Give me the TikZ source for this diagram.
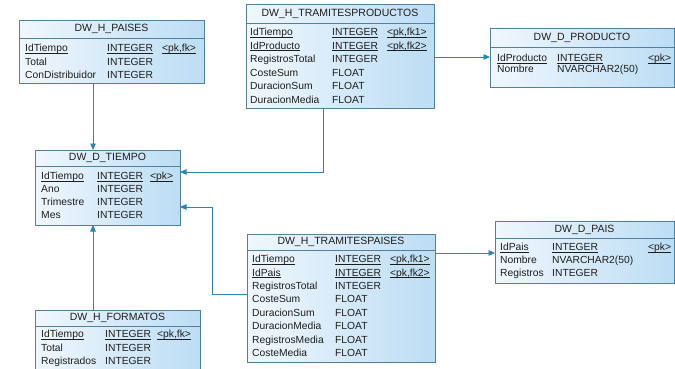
\documentclass[tikz,border=0pt]{standalone}
\usepackage{fontspec}
\setmainfont{Liberation Sans}
\usetikzlibrary{arrows.meta}
\definecolor{edgec}{RGB}{80,130,160}
\definecolor{connc}{RGB}{38,135,180}
\definecolor{fillL}{RGB}{240,247,253}
\definecolor{fillR}{RGB}{188,221,244}
\definecolor{txtc}{RGB}{30,30,30}
\newcommand\ul[1]{\setbox0\hbox{#1}\rlap{\rule[-1.7pt]{\wd0}{0.55pt}}\box0}
\newcommand\erow[7]{%
  \node[fld] (#1n) at (#3,#2) {#6};
  \node[fld] (#1t) at (#4,#2) {#7};}
\newcommand\erowk[9]{%
  \node[fld] (#1n) at (#3,#2) {#6};
  \node[fld] (#1t) at (#4,#2) {#7};
  \node[fld] (#1k) at (#5,#2) {#8};}
\newcommand\ent[7]{% name, x0, y0, x1, y1, ysep, title
  \node[entity, minimum width=#4-#2, minimum height=#5-#3] (#1) at ({(#2+#4)/2},{(#3+#5)/2}) {};
  \draw[sepline] (#2,#6) -- (#4,#6);
  \node[title] (#1h) at ({(#2+#4)/2},{(#3+#6)/2}) {#7};}
\begin{document}
\begin{tikzpicture}[x=1pt,y=-1pt,
  entity/.style={draw=edgec, line width=0.8pt, left color=fillL, right color=fillR, inner sep=0pt, outer sep=0pt},
  sepline/.style={draw=edgec, line width=0.7pt},
  title/.style={inner sep=0pt, font=\fontsize{10.5}{12}\selectfont, text=txtc},
  fld/.style={anchor=base west, inner sep=0pt, font=\fontsize{10.3}{12}\selectfont, text=txtc},
  arr/.style={draw=connc, line width=0.9pt, -{Triangle[length=6.5pt,width=5.5pt]}}]
\useasboundingbox (0,0) rectangle (675,368);
\fill[white] (0,0) rectangle (675,368);

% DW_H_PAISES
\ent{paises}{19}{20}{204}{83}{38}{DW\_H\_PAISES}
\erowk{pa1}{51.5}{25}{107}{162}{\ul{IdTiempo}}{\ul{INTEGER}}{\ul{<pk,fk>}}{}
\erow{pa2}{65}{25}{107}{162}{Total}{INTEGER}
\erow{pa3}{78.5}{25}{107}{162}{ConDistribuidor}{INTEGER}

% DW_H_TRAMITESPRODUCTOS
\ent{tprod}{246}{4}{434}{108}{23}{DW\_H\_TRAMITESPRODUCTOS}
\erowk{tp1}{35.6}{250}{332}{387}{\ul{IdTiempo}}{\ul{INTEGER}}{\ul{<pk,fk1>}}{}
\erowk{tp2}{49.1}{250}{332}{387}{\ul{IdProducto}}{\ul{INTEGER}}{\ul{<pk,fk2>}}{}
\erow{tp3}{62.6}{250}{332}{387}{RegistrosTotal}{INTEGER}
\erow{tp4}{76.1}{250}{332}{387}{CosteSum}{FLOAT}
\erow{tp5}{89.6}{250}{332}{387}{DuracionSum}{FLOAT}
\erow{tp6}{103.1}{250}{332}{387}{DuracionMedia}{FLOAT}

% DW_D_PRODUCTO
\ent{prod}{490}{28}{674}{87}{47}{DW\_D\_PRODUCTO}
\erowk{pr1}{61.6}{497}{557}{648}{\ul{IdProducto}}{\ul{INTEGER}}{\ul{<pk>}}{}
\erow{pr2}{72.6}{497}{557}{648}{Nombre}{NVARCHAR2(50)}

% DW_D_TIEMPO
\ent{tiempo}{35}{150}{180}{225}{166}{DW\_D\_TIEMPO}
\erowk{ti1}{179.6}{41}{97}{150}{\ul{IdTiempo}}{\ul{INTEGER}}{\ul{<pk>}}{}
\erow{ti2}{192}{41}{97}{150}{Ano}{INTEGER}
\erow{ti3}{205.4}{41}{97}{150}{Trimestre}{INTEGER}
\erow{ti4}{218.6}{41}{97}{150}{Mes}{INTEGER}

% DW_H_TRAMITESPAISES
\ent{tpais}{247}{234}{435}{362}{250}{DW\_H\_TRAMITESPAISES}
\erowk{ta1}{262.6}{252}{335}{390}{\ul{IdTiempo}}{\ul{INTEGER}}{\ul{<pk,fk1>}}{}
\erowk{ta2}{276}{252}{335}{390}{\ul{IdPais}}{\ul{INTEGER}}{\ul{<pk,fk2>}}{}
\erow{ta3}{289.4}{252}{335}{390}{RegistrosTotal}{INTEGER}
\erow{ta4}{302.8}{252}{335}{390}{CosteSum}{FLOAT}
\erow{ta5}{316.2}{252}{335}{390}{DuracionSum}{FLOAT}
\erow{ta6}{329.6}{252}{335}{390}{DuracionMedia}{FLOAT}
\erow{ta7}{343}{252}{335}{390}{RegistrosMedia}{FLOAT}
\erow{ta8}{356.4}{252}{335}{390}{CosteMedia}{FLOAT}

% DW_D_PAIS
\ent{pais}{495}{221}{674}{283}{238}{DW\_D\_PAIS}
\erowk{pi1}{250.6}{500}{552}{648}{\ul{IdPais}}{\ul{INTEGER}}{\ul{<pk>}}{}
\erow{pi2}{263}{500}{552}{648}{Nombre}{NVARCHAR2(50)}
\erow{pi3}{276}{500}{552}{648}{Registros}{INTEGER}

% DW_H_FORMATOS
\ent{form}{35}{310}{200}{372}{326}{DW\_H\_FORMATOS}
\erowk{fo1}{337.6}{41}{105}{157}{\ul{IdTiempo}}{\ul{INTEGER}}{\ul{<pk,fk>}}{}
\erow{fo2}{351.4}{41}{105}{157}{Total}{INTEGER}
\erow{fo3}{364.8}{41}{105}{157}{Registrados}{INTEGER}

% connectors
\draw[arr] (paises.south -| 93,0) -- (tiempo.north -| 93,0);
\draw[arr] (form.north -| 93,0) -- (tiempo.south -| 93,0);
\draw[arr] (tprod.south -| 323,0) |- (tiempo.east |- 0,172);
\draw[arr] (tpais.west |- 0,294) -- ++(-35,0) |- (tiempo.east |- 0,207);
\draw[arr] (tprod.east |- 0,57) -- (prod.west |- 0,57);
\draw[arr] (tpais.east |- 0,253) -- (pais.west |- 0,253);
\end{tikzpicture}
\end{document}
